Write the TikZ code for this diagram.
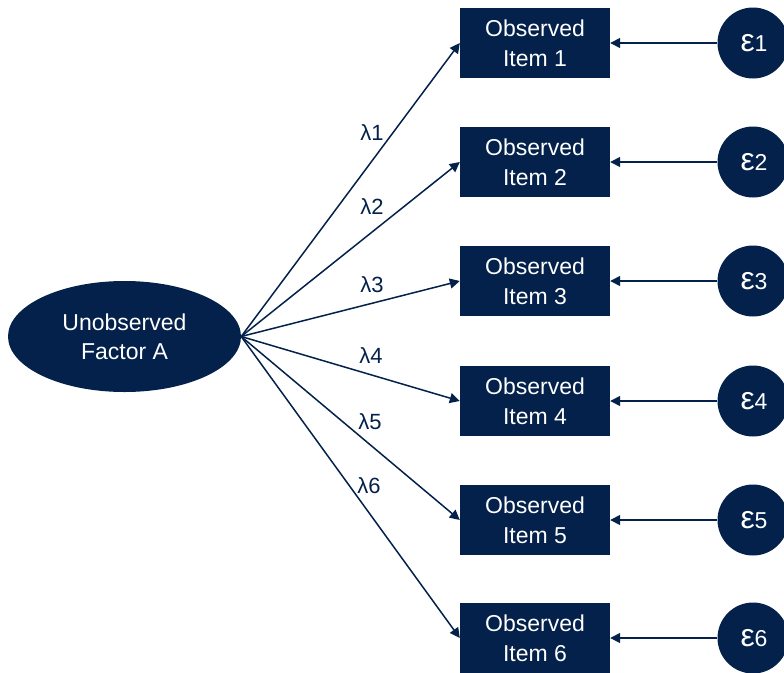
\documentclass[tikz,border=0pt]{standalone}
\usepackage{graphicx}
\usepackage{fontspec}
\setmainfont{Liberation Sans}
\usetikzlibrary{arrows.meta,shapes.geometric}
\definecolor{navy}{HTML}{03214A}
\begin{document}
\begin{tikzpicture}[x=1pt,y=-1pt,
  box/.style={fill=navy, minimum width=150pt, minimum height=70pt, inner sep=0pt, text=white, align=center, font=\fontsize{23}{30}\selectfont},
  err/.style={circle, fill=navy, minimum size=71pt, inner sep=0pt, text=white, font=\fontsize{23}{28}\selectfont},
  fac/.style={ellipse, fill=navy, minimum width=233pt, minimum height=111pt, inner sep=0pt, text=white, align=center, font=\fontsize{23}{29}\selectfont},
  link/.style={draw=navy, line width=1.5pt, -{Triangle[length=10pt,width=10pt]}},
  lab/.style={text=navy, inner sep=0pt, font=\fontsize{22}{26}\selectfont}]
\useasboundingbox (0,0) rectangle (784,672);
\clip (0,0) rectangle (784,672);
\node[fac] (f) at (124.5,336.5) {Unobserved\\Factor A};
\foreach \i/\y in {1/43,2/162,3/281,4/401,5/520,6/638}{
  \node[box] (b\i) at (535,\y) {Observed\\Item \i};
  \node[err] (e\i) at (753,\y) {\hspace{2pt}\scalebox{1.38}{ε}\i};
  \draw[link] (e\i.west) -- (b\i.east);
  \draw[link] (f.east) -- (b\i.west);
}
\node[lab] (l1) at (372,133) {λ1};
\node[lab] (l2) at (372,207) {λ2};
\node[lab] (l3) at (372,285) {λ3};
\node[lab] (l4) at (371,356) {λ4};
\node[lab] (l5) at (370,422) {λ5};
\node[lab] (l6) at (369,486) {λ6};
\end{tikzpicture}
\end{document}
